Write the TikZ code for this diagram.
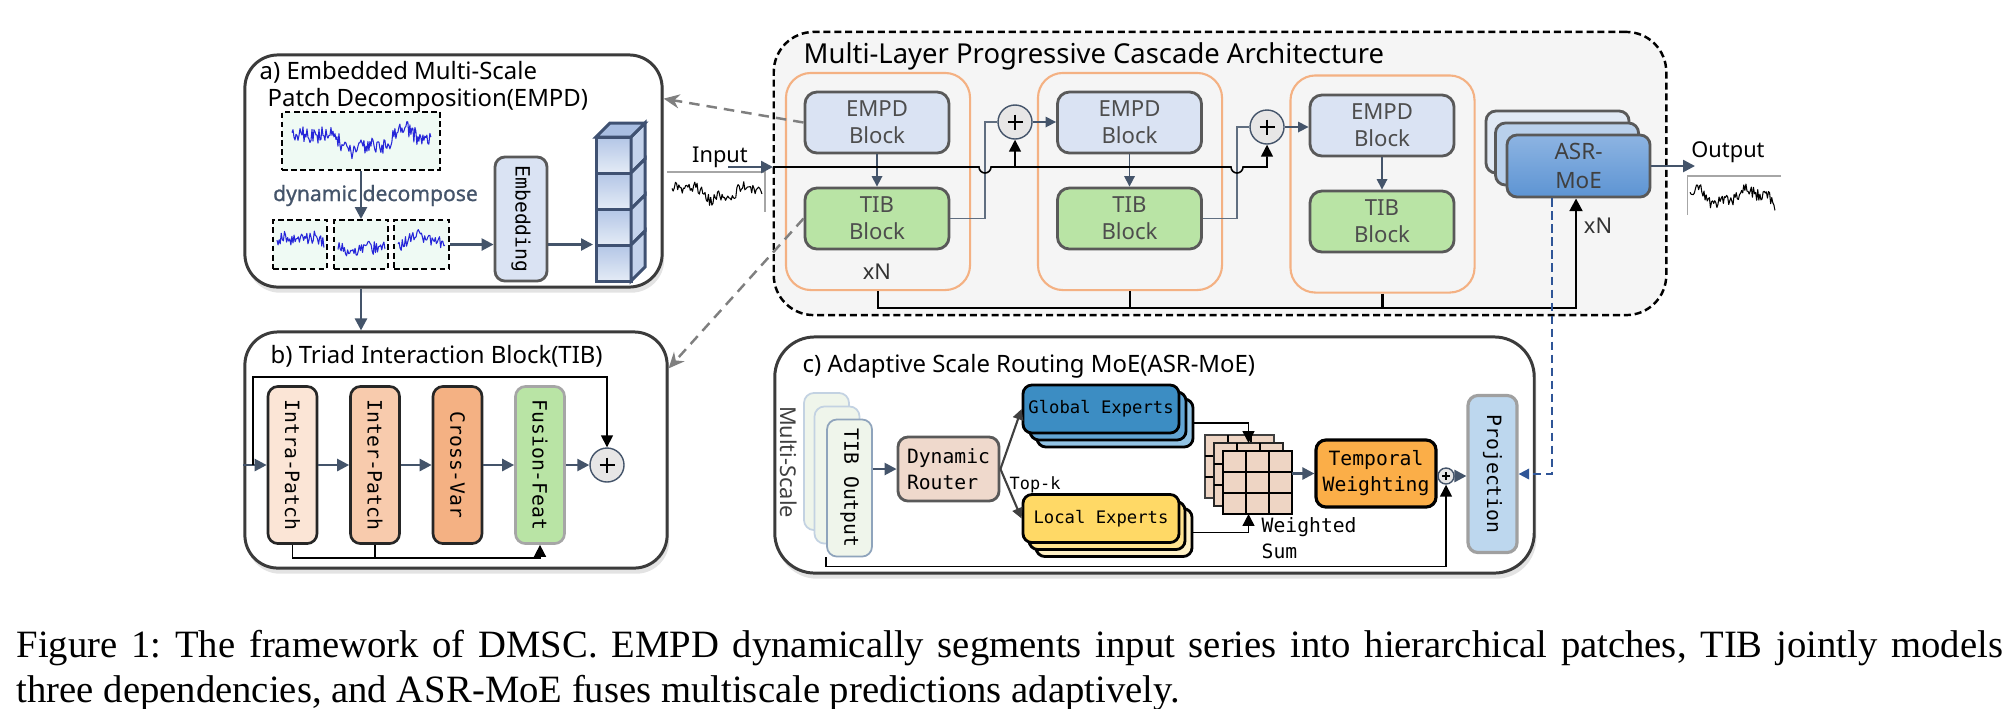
\documentclass[tikz,border=0pt]{standalone}
\usepackage{fontspec}
\setmainfont{Liberation Serif}
\setmonofont{DejaVu Sans Mono}
\newfontfamily\labelfont{Noto Sans}
\usetikzlibrary{arrows.meta}
\usetikzlibrary{shadows}

\definecolor{slate}{HTML}{44546A}
\definecolor{panelgray}{HTML}{3B3B3B}
\definecolor{blockgray}{HTML}{595959}
\definecolor{blocktext}{HTML}{4D4D4D}
\definecolor{empdblue}{HTML}{DAE3F3}
\definecolor{tibgreen}{HTML}{B9E4A5}
\definecolor{stageorange}{HTML}{F4B183}
\definecolor{cascadegray}{HTML}{F5F5F5}
\definecolor{patchmint}{HTML}{EFFAF4}
\definecolor{seriesblue}{HTML}{2626D9}
\definecolor{sumgray}{HTML}{E7E6E6}
\definecolor{intrafill}{HTML}{FBE5D6}
\definecolor{interfill}{HTML}{F8CBAD}
\definecolor{crossfill}{HTML}{F4B183}
\definecolor{fusionedge}{HTML}{A6A6A6}
\definecolor{projfill}{HTML}{BDD7EE}
\definecolor{projedge}{HTML}{A0A0A0}
\definecolor{routerfill}{HTML}{EFD9CC}
\definecolor{globalA}{HTML}{3C8DC3}
\definecolor{globalB}{HTML}{62A5D4}
\definecolor{globalC}{HTML}{92C3E4}
\definecolor{localA}{HTML}{FFD966}
\definecolor{localB}{HTML}{FFE38F}
\definecolor{localC}{HTML}{FFF1C6}
\definecolor{gridfill}{HTML}{EED5C4}
\definecolor{temporalfill}{HTML}{FBAE48}
\definecolor{hintgray}{HTML}{7F7F7F}
\definecolor{routeblue}{HTML}{2F5597}
\definecolor{cubeedge}{HTML}{3F5172}
\definecolor{cubelight}{HTML}{E4EBF6}
\definecolor{cubedark}{HTML}{B3C6E6}
\definecolor{cubeside}{HTML}{C4D3EC}
\definecolor{cubetopface}{HTML}{A9BEE2}
\definecolor{asrA}{HTML}{8DB4E2}
\definecolor{asrB}{HTML}{5D94D3}
\definecolor{asrmid}{HTML}{B9D0EB}
\definecolor{asrback}{HTML}{E1E9F4}
\definecolor{tiboutfill}{HTML}{EFF5EB}
\definecolor{tiboutedge}{HTML}{C3D2E2}
\definecolor{tiboutfront}{HTML}{8FA4BC}
\definecolor{axisgray}{HTML}{A6A6A6}

\tikzstyle{panel}=[draw=panelgray, line width=0.85pt, rounded corners=0.33cm, fill=white, drop shadow={opacity=0.22, shadow xshift=0.6pt, shadow yshift=-1.6pt}]
\tikzstyle{cascade}=[draw=black, fill=cascadegray, line width=0.7pt, dash pattern=on 2pt off 1.1pt, rounded corners=0.4cm]
\tikzstyle{panel title}=[anchor=base west, inner sep=0, font=\labelfont\fontsize{6.8}{8}\selectfont]
\tikzstyle{label text}=[inner sep=0, font=\labelfont\fontsize{6.2}{7}\selectfont]
\tikzstyle{patch}=[draw, line width=0.55pt, dash pattern=on 1.6pt off 1pt, fill=patchmint]
\tikzstyle{block}=[draw=blockgray, line width=0.8pt, rounded corners=0.12cm, align=center, text=blocktext, inner sep=0, font=\labelfont\fontsize{6.3}{7.7}\selectfont]
\tikzstyle{empd block}=[block, fill=empdblue, minimum width=1.44cm, minimum height=0.61cm]
\tikzstyle{tib block}=[block, fill=tibgreen, minimum width=1.44cm, minimum height=0.61cm]
\tikzstyle{stage}=[draw=stageorange, line width=0.6pt, rounded corners=0.25cm, minimum width=1.84cm, minimum height=2.17cm]
\tikzstyle{sub block}=[draw=black!85, line width=0.75pt, rounded corners=0.1cm, inner sep=0, minimum width=0.49cm, minimum height=1.57cm, font=\ttfamily\fontsize{5.6}{6.5}\selectfont]
\tikzstyle{sumnode}=[circle, draw=slate, fill=sumgray, line width=0.4pt, inner sep=0, minimum size=0.34cm, path picture={\draw[black, line width=0.45pt] (path picture bounding box.center) +(-7.5,0) -- +(7.5,0) +(0,-7.5) -- +(0,7.5);}]
\tikzstyle{small sumnode}=[circle, draw=slate, fill=sumgray, line width=0.4pt, inner sep=0, minimum size=0.16cm, path picture={\draw[black, line width=0.35pt] (path picture bounding box.center) +(-4,0) -- +(4,0) +(0,-4) -- +(0,4);}]
\tikzstyle{flow}=[slate, line width=0.7pt, -{Triangle[length=3.4pt, width=3.4pt]}]
\tikzstyle{thin flow}=[slate, line width=0.45pt, -{Triangle[length=3pt, width=3pt]}]
\tikzstyle{route}=[slate!85, line width=0.45pt]
\tikzstyle{link}=[black, line width=0.45pt]
\tikzstyle{link tip}=[link, -{Triangle[length=3.4pt, width=3.4pt]}]
\tikzstyle{bus}=[black, line width=0.8pt]
\tikzstyle{fan}=[black!75, line width=0.6pt, -{Triangle[length=3pt, width=3pt]}]
\tikzstyle{hint}=[hintgray, line width=0.7pt, dash pattern=on 3pt off 2pt, -{Stealth[length=4.5pt, width=4pt]}]
\tikzstyle{route dash}=[routeblue, line width=0.55pt, dash pattern=on 2.3pt off 1.4pt, -{Triangle[length=3pt, width=3pt]}]
\tikzstyle{mono}=[inner sep=0, font=\ttfamily\fontsize{5.6}{7.4}\selectfont]
\tikzstyle{tibout}=[fill=tiboutfill, line width=0.5pt, rounded corners=0.1cm, inner sep=0, minimum width=0.45cm, minimum height=1.37cm, font=\ttfamily\fontsize{5.6}{6.5}\selectfont]
\tikzstyle{expert}=[draw=black, line width=0.8pt, rounded corners=0.09cm, inner sep=0, minimum width=1.56cm, minimum height=0.48cm, font=\ttfamily\fontsize{4.9}{6}\selectfont]
\tikzstyle{wgrid}=[draw=black, fill=gridfill, line width=0.7pt, outer sep=0, inner sep=0, minimum width=0.69cm, minimum height=0.63cm]
\tikzstyle{asr box}=[draw=blockgray, line width=0.8pt, rounded corners=0.1cm, minimum width=1.43cm, minimum height=0.62cm, inner sep=0]
\tikzstyle{series}=[line width=0.3pt, line join=round]
\tikzstyle{caption text}=[anchor=base west, inner sep=0, font=\fontsize{11}{13}\selectfont]

% x0, y0, width, amplitude, t from, t to, seed, colour, samples
\newcommand{\wiggle}[9]{%
  \pgfmathsetseed{#7}
  \draw[series, #8] plot[variable=\t, domain=#5:#6, samples=#9]
    ({#1+#3*(\t-#5)/(#6-#5)}, {#2-#4*(0.42*sin(\t*520+10)+0.2*sin(\t*1400+60)+0.38*rand)});
}
\newcommand{\gridcells}[1]{%
  \foreach \f in {1,2} {
    \draw[line width=0.6pt] (#1.north west) ++(\f*0.23cm,0) -- ++(0,-0.63cm);
    \draw[line width=0.6pt] (#1.north west) ++(0,-\f*0.21cm) -- ++(0.69cm,0);
  }
}

\begin{document}
\begin{tikzpicture}[x=0.01cm, y=-0.01cm]
    \useasboundingbox (0,0) rectangle (2013,708);

    % panels
    \node[panel, minimum width=4.17cm, minimum height=2.32cm] (empd_panel) at (453.5,171) {};
    \node[panel, minimum width=4.22cm, minimum height=2.36cm] (tib_panel) at (456,450) {};
    \node[panel, rounded corners=0.4cm, minimum width=7.59cm, minimum height=2.36cm] (asr_panel) at (1154.5,455) {};
    \node[cascade, minimum width=8.92cm, minimum height=2.83cm] (cascade) at (1220,173.5) {};

    % a) EMPD
    \node[panel title] (empd_title) at (259,79) {a) Embedded Multi-Scale};
    \node[panel title] (empd_title_b) at (267,106) {Patch Decomposition(EMPD)};
    \node[patch, minimum width=1.58cm, minimum height=0.58cm] (patch) at (361,141) {};
    \wiggle{292}{141}{139}{21}{0}{1}{3}{seriesblue}{140}
    \node[patch, minimum width=0.54cm, minimum height=0.49cm] (patch1) at (300,244.5) {};
    \node[patch, minimum width=0.54cm, minimum height=0.49cm] (patch2) at (361,244.5) {};
    \node[patch, minimum width=0.55cm, minimum height=0.49cm] (patch3) at (421.5,244.5) {};
    \wiggle{277}{244}{47}{17}{0}{0.333}{5}{seriesblue}{45}
    \wiggle{338}{244}{47}{17}{0.333}{0.667}{6}{seriesblue}{45}
    \wiggle{398}{244}{47}{17}{0.667}{1}{8}{seriesblue}{45}
    \draw[flow] (patch.south) -- (patch2.north);
    \node[anchor=base, inner sep=0, text=slate, font=\labelfont\bfseries\fontsize{6}{7}\selectfont\addfontfeature{FakeBold=1}] (decomp_lbl) at (375.5,201) {dynamic decompose};
    \node[block, fill=empdblue, text=black, rounded corners=0.1cm, minimum width=0.52cm, minimum height=1.24cm, font=\ttfamily\fontsize{5.6}{6.5}\selectfont] (embed) at (521,219) {\rotatebox{-90}{Embedding}};
    \draw[flow] (patch3.east) -- (patch3.east -| embed.west);
    \coordinate (cubes_in) at (593,244.5);
    \draw[flow] (patch3.east -| embed.east) -- (cubes_in);
    \foreach \k in {0,...,3} {
      \pgfmathsetmacro\ytop{137+36*\k}
      \draw[cubeedge, line width=0.85pt, top color=cubedark, bottom color=cubelight] (596,\ytop) rectangle (631,\ytop+36);
      \draw[cubeedge, line width=0.85pt, fill=cubeside] (631,\ytop) -- ++(14,-14) -- ++(0,36) -- ++(-14,14) -- cycle;
    }
    \draw[cubeedge, line width=0.85pt, fill=cubetopface] (596,137) -- ++(14,-14) -- ++(35,0) -- ++(-14,14) -- cycle;
    \draw[flow] (patch2.south |- empd_panel.south) -- (patch2.south |- tib_panel.north);

    % b) TIB
    \node[panel title] (tib_title) at (270,363) {b) Triad Interaction Block(TIB)};
    \node[sub block, fill=intrafill] (intra) at (292.5,465) {\rotatebox{-90}{Intra-Patch}};
    \node[sub block, fill=interfill] (inter) at (375,465) {\rotatebox{-90}{Inter-Patch}};
    \node[sub block, fill=crossfill] (cross) at (457.5,465) {\rotatebox{-90}{Cross-Var}};
    \node[sub block, fill=tibgreen, draw=fusionedge] (fusion) at (540,465) {\rotatebox{-90}{Fusion-Feat}};
    \node[sumnode] (plus_b) at (607,465) {};
    \draw[flow] (tib_panel.west |- intra.west) -- (intra.west);
    \draw[flow] (intra) -- (inter);
    \draw[flow] (inter) -- (cross);
    \draw[flow] (cross) -- (fusion);
    \draw[flow] (fusion) -- (plus_b);
    \coordinate (tib_split) at (253,465);
    \draw[link tip] (tib_split) -- ++(0,-88) -| (plus_b.north);
    \coordinate (tib_bus) at (0,558);
    \draw[link tip] (intra.south) |- (fusion.south |- tib_bus) -- (fusion.south);
    \draw[link] (inter.south) -- (inter.south |- tib_bus);

    % cascade
    \node[anchor=base west, inner sep=0, font=\labelfont\fontsize{7.8}{9}\selectfont] (cascade_title) at (803,63) {Multi-Layer Progressive Cascade Architecture};
    \node[stage] (stage1) at (878,181.5) {};
    \node[stage] (stage2) at (1130,181.5) {};
    \node[stage] (stage3) at (1382.5,184) {};
    \node[empd block] (empd1) at (877,122.5) {EMPD\\Block};
    \node[tib block] (tib1) at (877,218.5) {TIB\\Block};
    \node[empd block] (empd2) at (1129.5,122.5) {EMPD\\Block};
    \node[tib block] (tib2) at (1129.5,218.5) {TIB\\Block};
    \node[empd block] (empd3) at (1382,125.5) {EMPD\\Block};
    \node[tib block] (tib3) at (1382,221.5) {TIB\\Block};
    \node[label text, anchor=base, text=black!80] (stage_xn) at (877,279) {xN};
    \draw[thin flow] (empd1) -- (tib1);
    \draw[thin flow] (empd2) -- (tib2);
    \draw[thin flow] (empd3) -- (tib3);
    \node[sumnode] (plus1) at (1015,122) {};
    \node[sumnode] (plus2) at (1267,127) {};
    \coordinate (hop1) at (985,167);
    \coordinate (hop2) at (1237,167);
    \draw[route] (tib1.east) -- (tib1.east -| hop1) |- (plus1.west);
    \draw[route] (tib2.east) -- (tib2.east -| hop2) |- (plus2.west);
    \draw[thin flow] (plus1.east) -- (plus1.east -| empd2.west);
    \draw[thin flow] (plus2.east) -- (plus2.east -| empd3.west);

    % input
    \node[label text, anchor=base] (input_lbl) at (720,162) {Input};
    \coordinate (in_tail) at (728,167);
    \coordinate (in_tip) at (773,167);
    \draw[axisgray, line width=0.3pt] (667,172) -- (765,172) -- (765,212);
    \wiggle{672}{193}{90}{14}{0}{1}{7}{black}{80}
    \draw[flow] (in_tail) -- (in_tip);
    \draw[link tip] (in_tip) -- (979,167) arc[start angle=180, end angle=0, radius=6]
      -- (1231,167) arc[start angle=180, end angle=0, radius=6] -| (plus2.south);
    \draw[link tip] (plus1.south |- in_tip) -- (plus1.south);

    % ASR-MoE stack and output
    \node[asr box, fill=asrback] (asr_back) at (1557.5,142) {};
    \node[asr box, fill=asrmid] (asr_mid) at (1567,154) {};
    \node[asr box, top color=asrA, bottom color=asrB, align=center, text=black!75, font=\labelfont\fontsize{6.4}{8}\selectfont] (asr) at (1578.5,166) {ASR-\\MoE};
    \coordinate (out_tip) at (1695,166);
    \draw[flow] (asr.east) -- (out_tip);
    \node[label text, anchor=base] (output_lbl) at (1728,157) {Output};
    \draw[axisgray, line width=0.3pt] (1781,176) -- (1687,176) -- (1687,215);
    \wiggle{1690}{196}{85}{16}{0.15}{1.15}{11}{black}{80}
    \coordinate (bus_y) at (0,308);
    \draw[bus, -{Triangle[length=3.6pt, width=3.6pt]}] (stage1.south) |- ([xshift=-0.025cm]asr.south |- bus_y) -- ([xshift=-0.025cm]asr.south);
    \draw[bus] (stage2.south) -- (stage2.south |- bus_y);
    \draw[bus] (stage3.south) -- (stage3.south |- bus_y);
    \node[label text, anchor=base, text=black!80] (asr_xn) at (1598,233) {xN};

    % c) ASR-MoE
    \node[panel title] (asr_title) at (802,372) {c) Adaptive Scale Routing MoE(ASR-MoE)};
    \node[label text, rotate=-90, text=black!75, font=\labelfont\fontsize{6.2}{7}\selectfont] (ms_lbl) at (789,462) {Multi-Scale};
    \node[tibout, draw=tiboutedge] (tibout3) at (826.5,461.5) {};
    \node[tibout, draw=tiboutedge] (tibout2) at (837,475) {};
    \node[tibout, draw=tiboutfront] (tibout) at (849.5,488) {\rotatebox{-90}{TIB Output}};
    \node[block, fill=routerfill, text=black, align=left, rounded corners=0.1cm, minimum width=1.01cm, minimum height=0.64cm, font=\ttfamily\fontsize{5.6}{7.4}\selectfont] (router) at (948.5,469) {Dynamic\\Router};
    \draw[flow] (tibout.east |- router.west) -- (router.west);
    \node[expert, fill=globalC] (global3) at (1115,423) {};
    \node[expert, fill=globalB] (global2) at (1108,416) {};
    \node[expert, fill=globalA] (global) at (1101,409) {Global Experts};
    \node[expert, fill=localC] (local3) at (1114,532.5) {};
    \node[expert, fill=localB] (local2) at (1107,525.5) {};
    \node[expert, fill=localA] (local) at (1101,518.5) {Local Experts};
    \draw[fan] (router.east) -- (global.west);
    \draw[fan] (router.east) -- (local.west);
    \node[mono, anchor=base west, font=\ttfamily\fontsize{4.8}{6}\selectfont] (topk_lbl) at (1009,489) {Top-k};
    \node[wgrid, draw=black!75] (wgrid3) at (1239.5,466.5) {};
    \gridcells{wgrid3}
    \node[wgrid, draw=black!85] (wgrid2) at (1248.5,474.5) {};
    \gridcells{wgrid2}
    \node[wgrid] (wgrid) at (1257.5,482.5) {};
    \gridcells{wgrid}
    \draw[link tip] (global3.east) -| (wgrid2.north);
    \draw[link tip] (local3.east) -| (wgrid.south -| wgrid2.south);
    \node[mono, anchor=base west] (wsum_lbl) at (1261,532) {Weighted};
    \node[mono, anchor=base west] (sum_lbl) at (1261,558) {Sum};
    \node[block, fill=temporalfill, draw=black, line width=0.9pt, text=black, rounded corners=0.1cm, minimum width=1.2cm, minimum height=0.67cm, font=\ttfamily\fontsize{5.6}{7.4}\selectfont] (temporal) at (1376,473.5) {Temporal\\Weighting};
    \draw[flow] (wgrid.east |- temporal.west) -- (temporal.west);
    \node[small sumnode] (plus_c) at (1446,476) {};
    \draw[slate, line width=0.7pt] (temporal.east |- plus_c.west) -- (plus_c.west);
    \node[sub block, fill=projfill, draw=projedge, line width=0.9pt] (proj) at (1492.5,474) {\rotatebox{-90}{Projection}};
    \draw[flow] (plus_c.east) -- (plus_c.east -| proj.west);
    \draw[link tip] (tibout.south west) -- ++(0,9) -| (plus_c.south);
    \draw[route dash] ([xshift=0.46cm]asr.south west) |- (proj.east);

    % links to the detail panels
    \draw[hint] (empd1.west) -- (empd_panel.19);
    \draw[hint] (tib1.west) -- (tib_panel.21);

    % caption
    \node[caption text] (caption_a) at (16,657) {\frenchspacing\makebox[19.85cm][s]{Figure 1: The framework of DMSC. EMPD dynamically segments input series into hierarchical patches, TIB jointly models}};
    \node[caption text] (caption_b) at (16,702) {\frenchspacing three dependencies, and ASR-MoE fuses multiscale predictions adaptively.};
  \end{tikzpicture}
\end{document}
